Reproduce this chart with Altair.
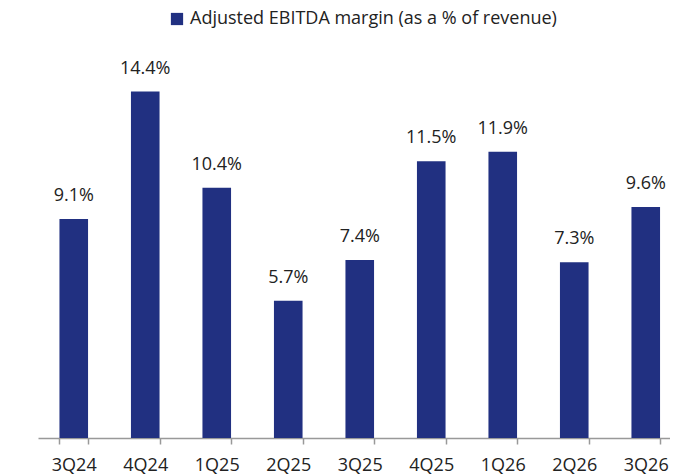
import altair as alt
import pandas as pd

quarters = ["3Q24", "4Q24", "1Q25", "2Q25", "3Q25", "4Q25", "1Q26", "2Q26", "3Q26"]
margins = [9.1, 14.4, 10.4, 5.7, 7.4, 11.5, 11.9, 7.3, 9.6]
series_name = "Adjusted EBITDA margin (as a % of revenue)"

df = pd.DataFrame({
    "quarter": quarters,
    "margin": margins,
    "series": [series_name] * len(quarters),
})
df["label"] = df["margin"].map(lambda v: f"{v:.1f}%")

FONT = "Open Sans"
NAVY = "#213081"
FS = 18

xscale = alt.Scale(paddingInner=0.6, paddingOuter=0.3, range=[0, 643.5])

x = alt.X("quarter:N", sort=quarters, title=None, scale=xscale,
          axis=alt.Axis(labelAngle=0, labelFont=FONT, labelFontSize=FS, labelColor="#222222",
                        labelPadding=12, tickBand="extent", tickSize=6, tickColor="#999999",
                        domainColor="#999999", domainWidth=1.5, tickWidth=1.5))
y = alt.Y("margin:Q", title=None, scale=alt.Scale(domain=[0, 16], nice=False),
          axis=None)

bars = alt.Chart(df).mark_bar(color=NAVY).encode(
    x=x, y=y,
    color=alt.Color("series:N", scale=alt.Scale(range=[NAVY]),
                    legend=alt.Legend(orient="none", legendX=130, legendY=-43, title=None,
                                      symbolType="square",
                                      symbolSize=150, labelFont=FONT, labelFontSize=FS,
                                      labelColor="#222222", symbolStrokeWidth=0,
                                      labelLimit=500)),
)

labels = alt.Chart(df).mark_text(dy=-18, baseline="alphabetic", font=FONT, fontSize=FS,
                                 color="#222222").encode(
    x=alt.X("quarter:N", sort=quarters, scale=xscale), y="margin:Q", text="label:N"
)

chart = alt.layer(bars, labels).properties(
    width=632, height=385,
    autosize=alt.AutoSizeParams(type="none"),
    padding={"left": 30, "top": 45, "right": 0, "bottom": 40},
).configure_view(stroke=None)

chart.save("out.html", embed_options={"renderer": "svg", "actions": False})
